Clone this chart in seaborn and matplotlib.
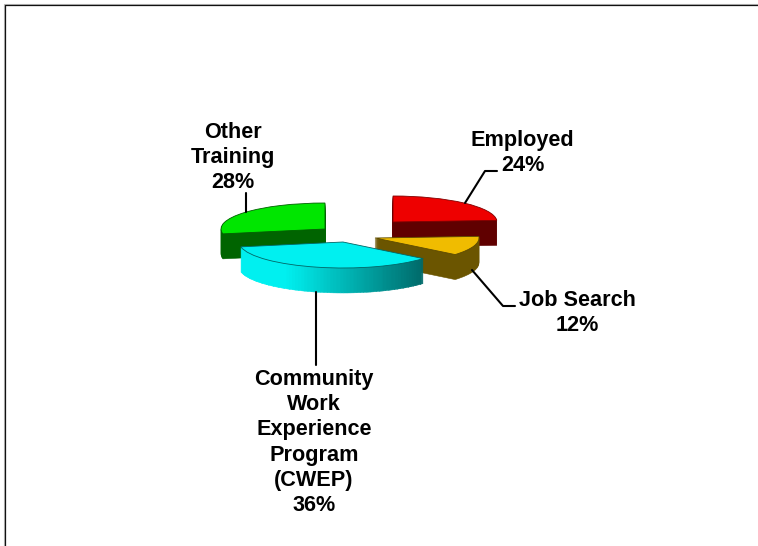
import matplotlib
matplotlib.use('Agg')
import matplotlib.pyplot as plt
import numpy as np
import seaborn as sns

# values, clockwise from 12 o'clock
labels = ['Employed', 'Job Search', 'Community\nWork\nExperience\nProgram\n(CWEP)', 'Other\nTraining']
shares = [24, 12, 36, 28]

top_colors = ['#ee0000', '#f0bc00', '#00f0f0', '#00e600']
edge_colors = ['#800000', '#5c4a00', '#006666', '#006000']
wall_colors = ['#600000', '#6b5500', None, '#006400']

W, H = 758, 546
RX, RY, DEPTH = 104, 26, 25

# apex of each slice in picture pixels, exploded by hand
apex = {'Employed': (393, 222), 'Job Search': (375, 238),
        'Community\nWork\nExperience\nProgram\n(CWEP)': (343, 242), 'Other\nTraining': (325, 229)}

sns.set_theme(style='white')
plt.rcParams['font.family'] = ['Liberation Sans', 'DejaVu Sans']

fig = plt.figure(figsize=(W / 100, H / 100), dpi=100)
ax = fig.add_axes([0, 0, 1, 1])


def to_units(px, py):
    return px / RX, (H - py) / RY


# work out start angles before drawing
start = {}
angle = 90
for name, share in zip(labels, shares):
    start[name] = angle
    angle -= share * 3.6

ramp = sns.blend_palette(['#00f0f0', '#006a6a'], 101)

# back to front
order = [3, 0, 1, 2]
for i in order:
    name, share = labels[i], shares[i]
    x0, y0 = apex[name]
    frac = share / 100
    # side wall is a stack of the same slice, shifted down a pixel at a time
    for d in range(DEPTH, 0, -1):
        c = to_units(x0, y0 + d)
        if wall_colors[i] is None:
            n = 70
            mids = np.radians(start[name] - (np.arange(n) + 0.5) * share * 3.6 / n)
            xs = x0 + RX * np.cos(mids)
            t = np.clip((xs - 285) / (423 - 285), 0, 1)
            cols = [ramp[int(v * 100)] for v in t]
            wedges, _ = ax.pie(np.full(n, frac / n), normalize=False, startangle=start[name],
                               counterclock=False, center=c, radius=1, colors=cols,
                               wedgeprops={'linewidth': 0.3})
            for w, col in zip(wedges, cols):
                w.set_edgecolor(col)
        else:
            ax.pie([frac], normalize=False, startangle=start[name], counterclock=False,
                   center=c, radius=1, colors=[wall_colors[i]],
                   wedgeprops={'linewidth': 0.4, 'edgecolor': wall_colors[i]})
    # top face
    ax.pie([frac], normalize=False, startangle=start[name], counterclock=False,
           center=to_units(x0, y0), radius=1, colors=[top_colors[i]],
           wedgeprops={'linewidth': 0.6, 'edgecolor': edge_colors[i]})

ax.set_aspect('auto')
ax.set_xlim(0, W / RX)
ax.set_ylim(0, H / RY)

# overlay in pixels for frame, leaders and labels
over = fig.add_axes([0, 0, 1, 1], facecolor='none')
over.set_xlim(0, W)
over.set_ylim(H, 0)
over.axis('off')

over.plot([3.5, 3.5, W], [H, 3.5, 3.5], color='#bbbbbb', lw=0.8)
over.plot([4.8, 4.8, W], [H, 4.8, 4.8], color='#111111', lw=0.9)

leaders = [([465, 485, 497], [203, 171, 171]),
           ([472, 503, 515], [270, 306, 306]),
           ([316, 316], [292, 365]),
           ([246, 246], [193, 212])]
for xs, ys in leaders:
    over.plot(xs, ys, color='black', lw=1.5)

label_pos = [(522.5, 153), (577, 313), (314, 442.5), (233, 157.5)]
for name, share, (x, y) in zip(labels, shares, label_pos):
    over.text(x, y, f'{name}\n{share}%', ha='center', va='center', fontsize=15.6,
              fontweight='bold', color='black', linespacing=1.255)

fig.savefig('out.png', dpi=100)
